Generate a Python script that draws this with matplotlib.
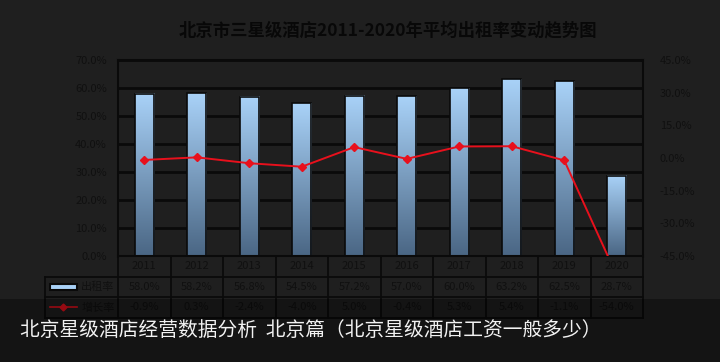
import numpy as np
import matplotlib
matplotlib.use("Agg")
import matplotlib.pyplot as plt
from matplotlib.patches import Rectangle
from matplotlib.colors import LinearSegmentedColormap

plt.rcParams['font.family'] = ['Noto Sans CJK SC', 'DejaVu Sans']

# ── 数据 ─────────────────────────────────────────────
years = ['2011', '2012', '2013', '2014', '2015', '2016', '2017', '2018', '2019', '2020']
occupancy = [58.0, 58.2, 56.8, 54.5, 57.2, 57.0, 60.0, 63.2, 62.5, 28.7]
growth = [-0.9, 0.3, -2.4, -4.0, 5.0, -0.4, 5.3, 5.4, -1.1, -54.0]
series_names = ['出租率', '增长率']
title = '北京市三星级酒店2011-2020年平均出租率变动趋势图'
caption = '北京星级酒店经营数据分析  北京篇（北京星级酒店工资一般多少）'

BG = '#1f1f1f'
DARK = '#0a0a0a'
TXT = '#101010'
RED = '#e8101c'

fig = plt.figure(figsize=(7.2, 3.62), dpi=100, facecolor=BG)
ax = fig.add_axes([118 / 720, 1 - 256 / 362, (643 - 118) / 720, 196 / 362])
ax.set_facecolor(BG)

# ── 柱状图 (渐变) ────────────────────────────────────
x = np.arange(len(years))
bars = ax.bar(x, occupancy, width=0.37, color='none', edgecolor=DARK, linewidth=1.2, zorder=3)
cmap = LinearSegmentedColormap.from_list('bar', ['#4a6684', '#a9d2f8'])
grad = np.linspace(1, 0, 256).reshape(-1, 1)
for b in bars:
    x0, w, h = b.get_x(), b.get_width(), b.get_height()
    ax.imshow(grad, extent=[x0, x0 + w, 0, h], aspect='auto', cmap=cmap, zorder=2.5)

ax.set_xlim(-0.5, len(years) - 0.5)
ax.set_ylim(0, 70)
ax.set_yticks(range(0, 71, 10))
ax.set_yticklabels([f'{v:.1f}%' for v in range(0, 71, 10)], color=TXT, fontsize=8)
ax.set_xticks([])
ax.tick_params(axis='y', length=0, pad=8)
ax.yaxis.grid(True, color=DARK, linewidth=2, zorder=1)
ax.set_axisbelow(True)
for s in ax.spines.values():
    s.set_color(DARK)
    s.set_linewidth(1.5)

# ── 折线 (右轴) ──────────────────────────────────────
ax2 = ax.twinx()
ax2.plot(x, growth, color=RED, marker='D', markersize=4.5, linewidth=1.4, zorder=5)
ax2.set_ylim(-45, 45)
ax2.set_yticks(range(-45, 46, 15))
ax2.set_yticklabels([f'{v:.1f}%' for v in range(-45, 46, 15)], color=TXT, fontsize=8)
ax2.tick_params(axis='y', length=0, pad=12)
for s in ax2.spines.values():
    s.set_visible(False)

# ── 数据表 ───────────────────────────────────────────
tr = ax.get_xaxis_transform()
rh = 0.105
lab_x0 = -1.9
n = len(years)
for yy in [-rh, -2 * rh, -3 * rh]:
    ax.plot([lab_x0, n - 0.5], [yy, yy], color=DARK, lw=1.3, transform=tr, clip_on=False)
for i in range(n + 1):
    ax.plot([i - 0.5, i - 0.5], [0, -3 * rh], color=DARK, lw=1.3, transform=tr, clip_on=False)
ax.plot([lab_x0, lab_x0], [-rh, -3 * rh], color=DARK, lw=1.3, transform=tr, clip_on=False)

for i in range(n):
    ax.text(i, -0.5 * rh, years[i], transform=tr, ha='center', va='center', color=TXT, fontsize=8)
    ax.text(i, -1.5 * rh, f'{occupancy[i]:.1f}%', transform=tr, ha='center', va='center', color=TXT, fontsize=8)
    ax.text(i, -2.5 * rh, f'{growth[i]:.1f}%', transform=tr, ha='center', va='center', color=TXT, fontsize=8)

ax.add_patch(Rectangle((-1.8, -1.5 * rh - 0.015), 0.52, 0.03, transform=tr, clip_on=False,
                       facecolor='#a9d2f8', edgecolor=DARK, lw=1.5))
ax.plot([-1.8, -1.28], [-2.5 * rh] * 2, color=RED, lw=1.2, transform=tr, clip_on=False)
ax.plot([-1.54], [-2.5 * rh], color=RED, marker='D', ms=3.5, transform=tr, clip_on=False)
ax.text(-0.88, -1.5 * rh, series_names[0], transform=tr, ha='center', va='center', color=TXT, fontsize=8)
ax.text(-0.88, -2.5 * rh, series_names[1], transform=tr, ha='center', va='center', color=TXT, fontsize=8)

# ── 标题 ─────────────────────────────────────────────
fig.text(388 / 720, 1 - 30 / 362, title, ha='center', va='center', color='#080808',
         fontsize=12.5, fontweight='bold')

# ── 底部说明条 ───────────────────────────────────────
fig.patches.append(Rectangle((0, 0), 1, 63 / 362, transform=fig.transFigure,
                             facecolor='black', alpha=0.35, zorder=10))
fig.text(20 / 720, 1 - 330 / 362, caption, ha='left', va='center', color='#f2f2f2',
         fontsize=14.2, zorder=11)

fig.savefig('out.png', dpi=100, facecolor=BG)
